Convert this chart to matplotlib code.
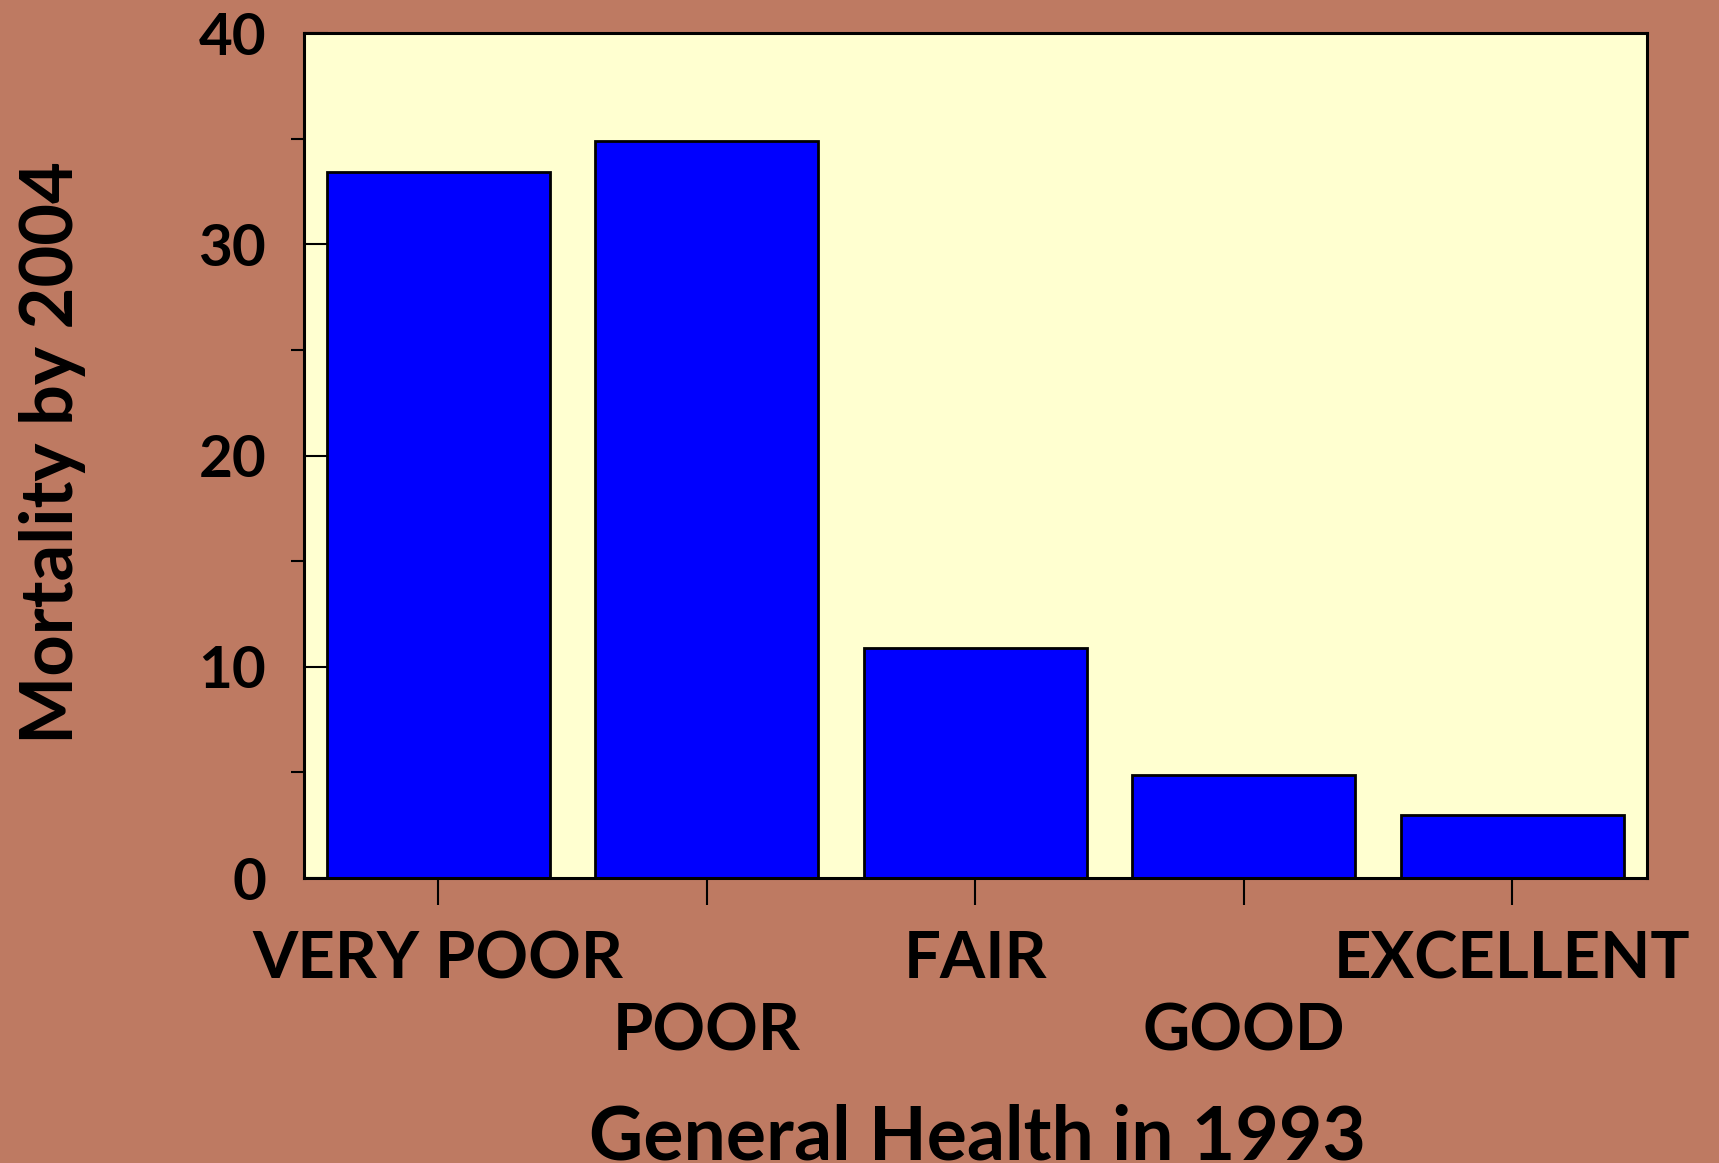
import numpy as np
import matplotlib.pyplot as plt

plt.rcParams["font.family"] = ["Lato", "DejaVu Sans"]
plt.rcParams["font.weight"] = "bold"

# data
categories = ['VERY POOR', 'POOR', 'FAIR', 'GOOD', 'EXCELLENT']
mortality = [33.4, 34.9, 10.9, 4.9, 3.0]

bg = '#BE7A62'
panel = '#FFFFD0'
bar_col = '#0000FF'

fig = plt.figure(figsize=(17.19, 11.63), dpi=100, facecolor=bg)
ax = fig.add_axes([0.1767, 0.2450, 0.7813, 0.7266])
ax.set_facecolor(panel)

x = np.arange(len(categories))
ax.bar(x, mortality, width=0.83, color=bar_col, edgecolor='black', linewidth=2.0, zorder=2)

ax.set_xlim(-0.5, 4.5)
ax.set_ylim(0, 40)

for s in ax.spines.values():
    s.set_linewidth(2.2)
    s.set_zorder(3)

# y ticks: majors inside with labels, minors outside
ax.set_yticks([0, 10, 20, 30, 40])
ax.set_yticks([5, 15, 25, 35], minor=True)
ax.tick_params(axis='y', which='major', direction='in', length=17, width=1.5,
               pad=27, labelsize=42)
ax.tick_params(axis='y', which='minor', direction='out', length=9.5, width=1.5)

# x ticks: labels staggered on two rows (even on major, odd on minor)
ax.set_xticks(x[::2])
ax.set_xticklabels(categories[::2])
ax.set_xticks(x[1::2], minor=True)
ax.set_xticklabels(categories[1::2], minor=True)
ax.tick_params(axis='x', which='both', direction='out', length=19.5, width=1.5,
               labelsize=47)
ax.tick_params(axis='x', which='major', pad=18)
ax.tick_params(axis='x', which='minor', pad=70)

for lab in ax.get_xticklabels() + ax.get_xticklabels(minor=True) + ax.get_yticklabels():
    lab.set_fontweight('bold')

fig.text(19 / 1719, 1 - 453 / 1163, 'Mortality by 2004', rotation=90,
         ha='left', va='center', fontsize=52, fontweight='bold')
fig.text(977 / 1719, 4 / 1163, 'General Health in 1993',
         ha='center', va='baseline', fontsize=54, fontweight='bold')

fig.savefig('out.png', dpi=100, facecolor=bg)
